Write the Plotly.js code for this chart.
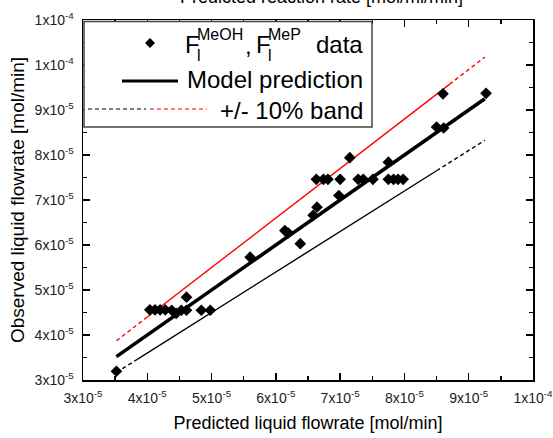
<!DOCTYPE html>
<html>
<head>
<meta charset="utf-8">
<script src="https://cdn.plot.ly/plotly-3.0.1.min.js"></script>
<style>
html,body{margin:0;padding:0;background:#fff;}
#chart{width:553px;height:438px;}
</style>
</head>
<body>
<div id="chart"></div>
<script>
// ---- data (mol/min) ----
const predicted = [3.52e-5, 4.04e-5, 4.12e-5, 4.20e-5, 4.28e-5, 4.38e-5, 4.45e-5, 4.53e-5, 4.61e-5, 4.61e-5,
  4.84e-5, 4.98e-5, 5.60e-5, 6.14e-5, 6.19e-5, 6.38e-5, 6.58e-5, 6.64e-5, 6.63e-5, 6.74e-5,
  6.81e-5, 7.00e-5, 6.98e-5, 7.15e-5, 7.28e-5, 7.36e-5, 7.51e-5, 7.75e-5, 7.75e-5, 7.83e-5,
  7.90e-5, 7.98e-5, 8.50e-5, 8.61e-5, 8.60e-5, 9.27e-5];
const observed = [3.195e-5, 4.56e-5, 4.56e-5, 4.56e-5, 4.56e-5, 4.55e-5, 4.48e-5, 4.55e-5, 4.55e-5, 4.84e-5,
  4.55e-5, 4.55e-5, 5.73e-5, 6.32e-5, 6.27e-5, 6.03e-5, 6.66e-5, 6.84e-5, 7.46e-5, 7.46e-5,
  7.46e-5, 7.46e-5, 7.10e-5, 7.94e-5, 7.46e-5, 7.46e-5, 7.46e-5, 7.84e-5, 7.46e-5, 7.46e-5,
  7.46e-5, 7.46e-5, 8.62e-5, 8.60e-5, 9.36e-5, 9.37e-5];

// model prediction (parity) line
const modelX = [3.52e-5, 9.25e-5];
const modelY = [3.52e-5, 9.25e-5];

// +10 % band: dashed start, solid middle, dashed end
const upperDash1X = [3.52e-5, 4.00e-5],  upperDash1Y = [3.872e-5, 4.40e-5];
const upperSolidX = [4.00e-5, 8.70e-5],  upperSolidY = [4.40e-5, 9.57e-5];
const upperDash2X = [8.70e-5, 9.25e-5],  upperDash2Y = [9.57e-5, 1.0175e-4];
// -10 % band
const lowerDash1X = [3.52e-5, 3.85e-5],  lowerDash1Y = [3.168e-5, 3.465e-5];
const lowerSolidX = [3.85e-5, 8.50e-5],  lowerSolidY = [3.465e-5, 7.65e-5];
const lowerDash2X = [8.50e-5, 9.25e-5],  lowerDash2Y = [7.65e-5, 8.325e-5];

// axis ticks
const xTickVals = [3e-5, 4e-5, 5e-5, 6e-5, 7e-5, 8e-5, 9e-5, 1e-4];
const xTickText = ['3x10<sup>-5</sup>','4x10<sup>-5</sup>','5x10<sup>-5</sup>','6x10<sup>-5</sup>',
  '7x10<sup>-5</sup>','8x10<sup>-5</sup>','9x10<sup>-5</sup>','1x10<sup>-4</sup>'];
const xMinorVals = [3.5e-5, 4.5e-5, 5.5e-5, 6.5e-5, 7.5e-5, 8.5e-5, 9.5e-5];
const yTickVals = [3e-5, 4e-5, 5e-5, 6e-5, 7e-5, 8e-5, 9e-5, 1e-4, 1.1e-4];
const yTickText = ['3x10<sup>-5</sup>','4x10<sup>-5</sup>','5x10<sup>-5</sup>','6x10<sup>-5</sup>',
  '7x10<sup>-5</sup>','8x10<sup>-5</sup>','9x10<sup>-5</sup>','1x10<sup>-4</sup>','1x10<sup>-4</sup>'];
const yMinorVals = [3.5e-5, 4.5e-5, 5.5e-5, 6.5e-5, 7.5e-5, 8.5e-5, 9.5e-5, 1.05e-4];

// ---- layout geometry helpers (pixel -> paper) ----
const W = 553, H = 438, ML = 83, MR = 20, MT = 20, MB = 58;
const PW = W - ML - MR, PH = H - MT - MB;
const px = v => (v - ML) / PW;
const py = v => (H - MB - v) / PH;

const FONT = 'Liberation Sans, Arial, Helvetica, sans-serif';
const dashPat = '4px,3px';

function seg(x, y, color, width, dash) {
  return {x: x, y: y, type: 'scatter', mode: 'lines', hoverinfo: 'skip',
    line: {color: color, width: width, dash: dash || 'solid'}};
}

const traces = [
  seg(upperDash1X, upperDash1Y, '#ff0000', 1.4, dashPat),
  seg(upperSolidX, upperSolidY, '#ff0000', 1.4),
  seg(upperDash2X, upperDash2Y, '#ff0000', 1.4, dashPat),
  seg(lowerDash1X, lowerDash1Y, '#000000', 1.4, dashPat),
  seg(lowerSolidX, lowerSolidY, '#000000', 1.4),
  seg(lowerDash2X, lowerDash2Y, '#000000', 1.4, dashPat),
  seg(modelX, modelY, '#000000', 3.6),
  {x: predicted, y: observed, type: 'scatter', mode: 'markers',
   marker: {symbol: 'diamond', size: 9, color: '#000000', line: {width: 0}}}
];

// custom legend
const legShapes = [
  {type: 'rect', xref: 'paper', yref: 'paper', x0: px(84), x1: px(372), y0: py(21.5), y1: py(127),
   line: {color: '#444', width: 1.5}, fillcolor: '#ffffff', layer: 'above'},
  {type: 'path', xref: 'paper', yref: 'paper', layer: 'above',
   path: `M ${px(150)} ${py(38)} L ${px(155)} ${py(43)} L ${px(150)} ${py(48)} L ${px(145)} ${py(43)} Z`,
   fillcolor: '#000', line: {width: 0}},
  {type: 'line', xref: 'paper', yref: 'paper', layer: 'above', x0: px(122), x1: px(178), y0: py(81), y1: py(81),
   line: {color: '#000', width: 3}},
  {type: 'line', xref: 'paper', yref: 'paper', layer: 'above', x0: px(88), x1: px(146), y0: py(109), y1: py(109),
   line: {color: '#000', width: 1, dash: dashPat}},
  {type: 'line', xref: 'paper', yref: 'paper', layer: 'above', x0: px(150), x1: px(207), y0: py(109), y1: py(109),
   line: {color: '#ff0000', width: 1, dash: dashPat}}
];

const LF = 24, SF = 16;
function ann(text, x, y, size, xanchor, yanchor) {
  return {text: text, xref: 'paper', yref: 'paper', x: px(x), y: py(y), showarrow: false,
    xanchor: xanchor || 'left', yanchor: yanchor || 'middle', font: {family: FONT, size: size, color: '#000'}};
}
const legAnns = [
  ann('F', 183, 45, LF),
  ann('MeOH', 195, 35, SF),
  ann('l', 195, 56, SF),
  ann(',', 243, 46, LF),
  ann('F', 254, 45, LF),
  ann('MeP', 266, 35, SF),
  ann('l', 266, 56, SF),
  ann('data', 365, 45, LF, 'right'),
  ann('Model prediction', 365, 80, LF, 'right'),
  ann('+/- 10% band', 365, 110, LF, 'right'),
  {text: 'Predicted reaction rate [mol/ml/min]', xref: 'paper', yref: 'paper', x: px(321), y: py(9),
   showarrow: false, xanchor: 'center', yanchor: 'bottom', font: {family: FONT, size: 18, color: '#000'}}
];

const axisCommon = {
  showgrid: false, zeroline: false, showline: true, linecolor: '#000', linewidth: 1.5,
  mirror: 'ticks', ticks: 'inside', ticklen: 7, tickwidth: 1.5, tickcolor: '#000',
  tickmode: 'array', ticklabeloverflow: 'allow', tickfont: {family: FONT, size: 14, color: '#222'}
};

const layout = {
  width: W, height: H,
  margin: {l: ML, r: MR, t: MT, b: MB},
  paper_bgcolor: '#fff', plot_bgcolor: '#fff',
  showlegend: false,
  font: {family: FONT},
  xaxis: Object.assign({}, axisCommon, {
    range: [3e-5, 1e-4], tickvals: xTickVals, ticktext: xTickText,
    minor: {tickmode: 'array', tickvals: xMinorVals, ticks: 'inside', ticklen: 4, tickwidth: 1.5, tickcolor: '#000', showgrid: false},
    ticklabelstandoff: 5,
    title: {text: 'Predicted liquid flowrate [mol/min]', font: {family: FONT, size: 18, color: '#000'}, standoff: 11}
  }),
  yaxis: Object.assign({}, axisCommon, {
    range: [3e-5, 1.1e-4], tickvals: yTickVals, ticktext: yTickText,
    minor: {tickmode: 'array', tickvals: yMinorVals, ticks: 'inside', ticklen: 4, tickwidth: 1.5, tickcolor: '#000', showgrid: false},
    ticklabelstandoff: 5,
    title: {text: 'Observed liquid flowrate [mol/min]', font: {family: FONT, size: 19, color: '#000'}, standoff: 5}
  }),
  shapes: legShapes,
  annotations: legAnns
};

Plotly.newPlot('chart', traces, layout, {displayModeBar: false, staticPlot: true});
</script>
</body>
</html>
